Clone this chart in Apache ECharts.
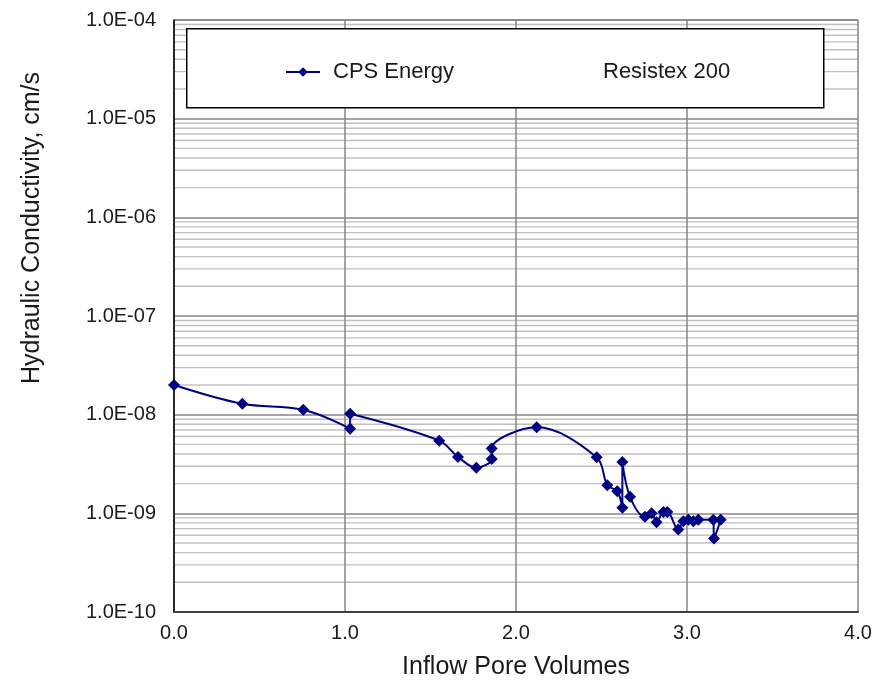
<!DOCTYPE html>
<html>
<head>
<meta charset="utf-8">
<script src="https://cdn.jsdelivr.net/npm/echarts@6/dist/echarts.min.js"></script>
<style>html,body{margin:0;padding:0;background:#fff;}#c{width:894px;height:685px;}</style>
</head>
<body>
<div id="c"></div>
<script>
// Inflow pore volumes (x) and hydraulic conductivity in cm/s (y)
var poreVolumes = [0, 0.40, 0.756, 1.03, 1.03, 1.551, 1.661, 1.768, 1.858, 1.858, 2.121, 2.472, 2.534, 2.592, 2.622, 2.622, 2.667, 2.754, 2.793, 2.822, 2.862, 2.885, 2.949, 2.978, 3.008, 3.037, 3.066, 3.154, 3.158, 3.197];
var conductivity = [2.0e-8, 1.29e-8, 1.12e-8, 7.2e-9, 1.02e-8, 5.45e-9, 3.73e-9, 2.89e-9, 3.56e-9, 4.53e-9, 7.44e-9, 3.70e-9, 1.93e-9, 1.67e-9, 1.14e-9, 3.32e-9, 1.47e-9, 9.26e-10, 1.0e-9, 8.1e-10, 1.03e-9, 1.03e-9, 6.85e-10, 8.3e-10, 8.6e-10, 8.3e-10, 8.6e-10, 8.6e-10, 5.55e-10, 8.6e-10];
var seriesName = 'CPS Energy';
var materialName = 'Resistex 200';
var xTicks = [0, 1, 2, 3, 4];
var yDecades = [-10, -9, -8, -7, -6, -5, -4];
var xAxisTitle = 'Inflow Pore Volumes';
var yAxisTitle = 'Hydraulic Conductivity, cm/s';

var FONT = '"Liberation Sans", Arial, sans-serif';
var pts = poreVolumes.map(function (x, i) { return [x, conductivity[i]]; });
var xMin = xTicks[0], xMax = xTicks[xTicks.length - 1];

// minor log gridlines (2..9 x each decade), spanning the full x range
var minorRows = [];
for (var d = 0; d < yDecades.length - 1; d++) {
  for (var m = 2; m <= 9; m++) {
    minorRows.push([xMin, m * Math.pow(10, yDecades[d]), xMax]);
  }
}

function fmtExp(v) {
  var e = Math.round(Math.log10(v));
  var s = e < 0 ? '-' : '+';
  var a = Math.abs(e);
  return '1.0E' + s + (a < 10 ? '0' + a : a);
}

var chart = echarts.init(document.getElementById('c'), null, { renderer: 'canvas' });
chart.setOption({
  animation: false,
  backgroundColor: '#ffffff',
  textStyle: { fontFamily: FONT },
  grid: { left: 174, right: 36, top: 20, bottom: 72, containLabel: false },
  xAxis: {
    type: 'value', min: xMin, max: xMax, interval: 1,
    name: xAxisTitle, nameLocation: 'middle', nameGap: 43,
    nameTextStyle: { fontSize: 25, color: '#1a1a1a', fontFamily: FONT },
    axisLine: { show: true, onZero: false, lineStyle: { color: '#404040', width: 2 } },
    axisTick: { show: false },
    axisLabel: { fontSize: 20, color: '#1a1a1a', margin: 11, fontFamily: FONT,
      formatter: function (v) { return v.toFixed(1); } },
    splitLine: { show: true, lineStyle: { color: '#868686', width: 1.5 } }
  },
  yAxis: {
    type: 'log', logBase: 10,
    min: Math.pow(10, yDecades[0]), max: Math.pow(10, yDecades[yDecades.length - 1]),
    axisLine: { show: true, onZero: false, lineStyle: { color: '#000000', width: 1.5 } },
    axisTick: { show: false },
    axisLabel: { fontSize: 20, color: '#1a1a1a', margin: 18, fontFamily: FONT, formatter: fmtExp },
    splitLine: { show: true, lineStyle: { color: '#868686', width: 1.5 } }
  },
  legend: [
    { data: [seriesName], left: 280, top: 56, itemWidth: 34, itemHeight: 12, z: 20,
      textStyle: { fontSize: 22, color: '#1a1a1a', fontFamily: FONT, padding: [0, 0, 0, 8] } },
    { data: [materialName], left: 593, top: 56, itemWidth: 0, itemHeight: 12, icon: 'none', z: 20,
      textStyle: { fontSize: 22, color: '#1a1a1a', fontFamily: FONT } }
  ],
  graphic: [
    { type: 'rect', z: 10, left: 186, top: 28,
      shape: { width: 637, height: 79 },
      style: { fill: '#ffffff', stroke: '#000000', lineWidth: 1.5 } },
    { type: 'text', z: 10, x: 32, y: 228, rotation: Math.PI / 2,
      style: { text: yAxisTitle, fontSize: 25, fill: '#1a1a1a', fontFamily: FONT,
        textAlign: 'center', textVerticalAlign: 'middle' } }
  ],
  series: [
    {
      name: 'minor-grid', type: 'custom', data: minorRows, silent: true, z: -1,
      clip: true, tooltip: { show: false },
      renderItem: function (params, api) {
        var p1 = api.coord([api.value(0), api.value(1)]);
        var p2 = api.coord([api.value(2), api.value(1)]);
        return {
          type: 'line',
          shape: { x1: p1[0], y1: p1[1], x2: p2[0], y2: p2[1] },
          style: { stroke: '#c0c0c0', lineWidth: 1.4 }
        };
      }
    },
    {
      name: seriesName, type: 'line', data: pts, z: 3,
      smooth: 0.35,
      symbol: 'diamond', symbolSize: 12,
      lineStyle: { color: '#000080', width: 2 },
      itemStyle: { color: '#000080' }
    },
    {
      name: materialName, type: 'line', data: [], showSymbol: false,
      lineStyle: { opacity: 0 }, itemStyle: { opacity: 0 }
    }
  ]
});
</script>
</body>
</html>
